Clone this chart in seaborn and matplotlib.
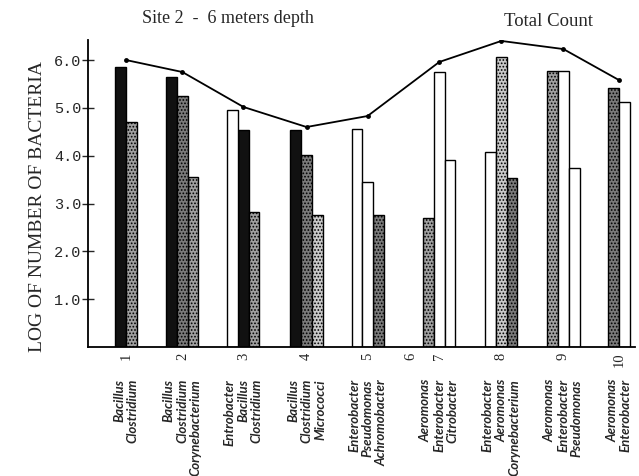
import numpy as np
import pandas as pd
import matplotlib.pyplot as plt
import seaborn as sns

# Values (log of number of bacteria), site 2, 6 m depth
samples = ['1', '2', '3', '4', '5', '6', '7', '8', '9', '10']
genera = [
    ['Bacillus', 'Clostridium'],
    ['Bacillus', 'Clostridium', 'Corynebacterium'],
    ['Entrobacter', 'Bacillus', 'Clostridium'],
    ['Bacillus', 'Clostridium', 'Micrococci'],
    ['Enterobacter', 'Pseudomonas', 'Achromobacter'],
    [],
    ['Aeromonas', 'Enterobacter', 'Citrobacter'],
    ['Enterobacter', 'Aeromonas', 'Corynebacterium'],
    ['Aeromonas', 'Enterobacter', 'Pseudomonas'],
    ['Aeromonas', 'Enterobacter'],
]
log_counts = [
    [5.85, 4.71],
    [5.65, 5.25, 3.56],
    [4.96, 4.54, 2.83],
    [4.54, 4.02, 2.77],
    [4.56, 3.46, 2.75],
    [],
    [2.69, 5.75, 3.92],
    [4.08, 6.06, 3.54],
    [5.77, 5.77, 3.75],
    [5.42, 5.12],
]
shades = [
    ['black', 'mid'],
    ['black', 'dark', 'mid'],
    ['white', 'black', 'mid'],
    ['black', 'dark', 'light'],
    ['white', 'white', 'dark'],
    [],
    ['mid', 'white', 'white'],
    ['white', 'light', 'dark'],
    ['mid', 'white', 'white'],
    ['dark', 'white'],
]
total_count = [6.0, 5.75, 5.02, 4.6, 4.83, np.nan, 5.96, 6.4, 6.23, 5.58]

# layout: the samples are not evenly spaced on the original axis
group_pos = [3.55, 8.8, 14.5, 20.4, 26.1, 30.1, 32.8, 38.6, 44.4, 49.6]
shade_colors = {'black': '#111111', 'dark': '#7a7a7a', 'mid': '#a0a0a0',
                'light': '#c9c9c9', 'white': '#ffffff'}

rows = []
for i, names in enumerate(genera):
    n = len(names)
    for j, name in enumerate(names):
        rows.append({'sample': samples[i], 'genus': name,
                     'x': group_pos[i] + (j - (n - 1) / 2),
                     'log': log_counts[i][j], 'shade': shades[i][j]})
bars = pd.DataFrame(rows)

totals = pd.DataFrame({'x': group_pos, 'total': total_count}).dropna()

sns.set_style('ticks')
serif = ['Liberation Serif', 'DejaVu Serif']
plt.rcParams['font.family'] = serif
plt.rcParams['hatch.linewidth'] = 0.8

fig = plt.figure(figsize=(6.39, 4.76), dpi=100)
ax = fig.add_axes([0.138, 0.271, 0.856, 0.645])

sns.barplot(data=bars, x='x', y='log', hue='shade', palette=shade_colors,
            native_scale=True, width=1, dodge=False, errorbar=None,
            edgecolor='black', linewidth=1.0, legend=False, ax=ax)

# stipple the grey bars
for p in ax.patches:
    fc = p.get_facecolor()[:3]
    if 0.2 < fc[0] < 0.95:
        p.set_hatch('.....')

sns.lineplot(data=totals, x='x', y='total', color='black', linewidth=1.3,
             marker='o', markersize=3.5, markeredgewidth=0, ax=ax)

ax.set_xlim(0, 51.1)
ax.set_ylim(0, 6.42)
sns.despine(ax=ax)
for s in ['left', 'bottom']:
    ax.spines[s].set_linewidth(1.3)
    ax.spines[s].set_color('black')

ax.set_yticks([1, 2, 3, 4, 5, 6])
ax.set_yticklabels(['1.0', '2.0', '3.0', '4.0', '5.0', '6.0'],
                   family='Liberation Mono', fontsize=11)
ax.tick_params(axis='y', direction='inout', length=8, width=1, pad=1)

ax.set_xticks(group_pos)
ax.set_xticklabels(samples, rotation=90, fontsize=10.5, family=serif)
ax.tick_params(axis='x', length=0, pad=4)
ax.set_xlabel('')
ax.set_ylabel('')
fig.text(0.059, 0.567, 'LOG OF NUMBER OF BACTERIA', rotation=90,
         ha='center', va='center', fontsize=14)

for i, names in enumerate(genera):
    if not names:
        continue
    ax.annotate('\n'.join(names), xy=(group_pos[i], 0),
                xycoords=('data', 'axes fraction'),
                xytext=(0, -32), textcoords='offset pixels',
                rotation=90, ha='center', va='top', multialignment='right',
                fontsize=9.5, fontstyle='italic', fontweight='bold',
                family=['Lato', 'DejaVu Sans'], linespacing=1.15,
                annotation_clip=False)

fig.text(0.357, 0.962, 'Site 2  -  6 meters depth', ha='center', va='center',
         fontsize=13)
fig.text(0.858, 0.955, 'Total Count', ha='center', va='center', fontsize=13.5)

fig.savefig('out.png', dpi=100)
